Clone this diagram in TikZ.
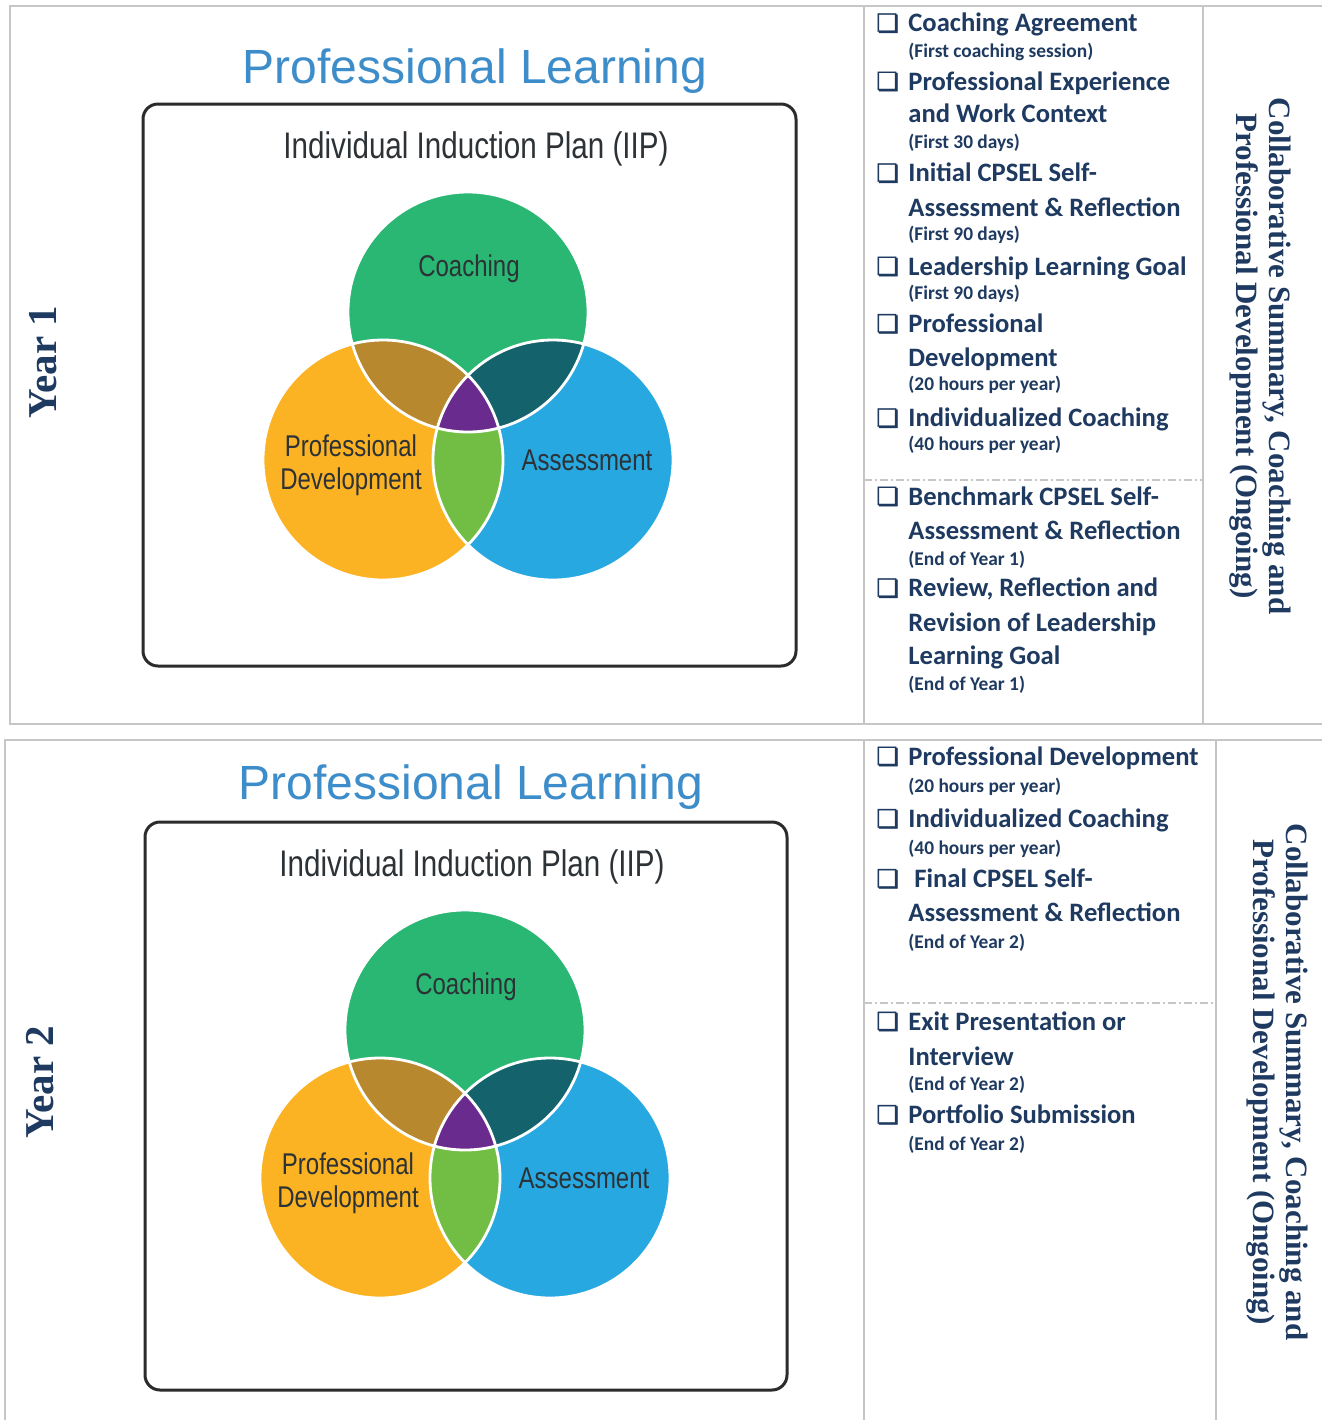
\documentclass[tikz,border=0pt]{standalone}
\usepackage{fontspec}
\setmainfont{Liberation Sans}
\newfontfamily\condfont[FakeStretch=0.8]{Liberation Sans}
\newfontfamily\calfont{Carlito}
\newfontfamily\serfont{Liberation Serif}
\newfontfamily\symfont[FakeBold=1.5]{DejaVu Sans}
\definecolor{navy}{HTML}{1F3A60}
\definecolor{ttlblue}{HTML}{3C8DC9}
\definecolor{panelgray}{HTML}{C6C6C6}
\definecolor{boxgray}{HTML}{2B2B2B}
\definecolor{lblgray}{HTML}{2C3236}
\definecolor{cCO}{HTML}{2AB673}
\definecolor{cPD}{HTML}{FBB324}
\definecolor{cAS}{HTML}{28A8E0}
\definecolor{cPDCO}{HTML}{B8882F}
\definecolor{cCOAS}{HTML}{14626B}
\definecolor{cPDAS}{HTML}{72BE44}
\definecolor{cALL}{HTML}{6A2B8E}
\tikzset{
  panel/.style={draw=panelgray, line width=1pt},
  paneldash/.style={draw=panelgray, line width=0.8pt, dash pattern=on 4pt off 1.5pt on 1pt off 1.5pt},
  iipbox/.style={draw=boxgray, line width=1.5pt, rounded corners=7.5pt},
  ptitle/.style={font=\fontsize{24}{28}\selectfont, text=ttlblue, inner sep=0pt, anchor=base},
  iip/.style={font=\condfont\fontsize{18.5}{22}\selectfont, text=lblgray, inner sep=0pt, anchor=base},
  vlabel/.style={font=\condfont\fontsize{15}{16.5}\selectfont, text=lblgray, inner sep=0pt, align=center},
  item/.style={font=\calfont\bfseries\fontsize{13.3}{16}\selectfont, text=navy, inner sep=0pt, anchor=base west},
  sub/.style={font=\calfont\bfseries\fontsize{9.7}{11}\selectfont, text=navy, inner sep=0pt, anchor=base west},
  chk/.style={font=\symfont\fontsize{12.5}{14}\selectfont, text=navy, inner sep=0pt, anchor=base west},
  yearlbl/.style={font=\serfont\bfseries\fontsize{20.5}{24}\selectfont, text=navy, inner sep=0pt, rotate=90},
  side/.style={font=\serfont\bfseries\fontsize{15.5}{16.5}\selectfont, text=navy, inner sep=0pt, align=center, rotate=-90},
  venn/.pic={
    \fill[cPD] (-85,0) circle[radius=120];
    \fill[cAS] (85,0) circle[radius=120];
    \fill[cCO] (0,-148) circle[radius=120];
    \begin{scope}
      \clip (-85,0) circle[radius=120];
      \fill[cPDCO] (0,-148) circle[radius=120];
    \end{scope}
    \begin{scope}
      \clip (85,0) circle[radius=120];
      \fill[cCOAS] (0,-148) circle[radius=120];
    \end{scope}
    \begin{scope}
      \clip (-85,0) circle[radius=120];
      \fill[cPDAS] (85,0) circle[radius=120];
    \end{scope}
    \begin{scope}
      \clip (-85,0) circle[radius=120];
      \clip (85,0) circle[radius=120];
      \fill[cALL] (0,-148) circle[radius=120];
    \end{scope}
    \draw[white, line width=1.4pt] (-85,0) circle[radius=120];
    \draw[white, line width=1.4pt] (85,0) circle[radius=120];
    \draw[white, line width=1.4pt] (0,-148) circle[radius=120];
    \node[vlabel] (-co) at (1,-191) {Coaching};
    \node[vlabel] (-pd) at (-117,5) {Professional\\Development};
    \node[vlabel] (-as) at (119,0) {Assessment};
  }
}
\begin{document}
\begin{tikzpicture}[x=0.5pt,y=-0.5pt]
\useasboundingbox (0,0) rectangle (1322,1420);
\fill[white] (0,0) rectangle (1322,1420);

% ---------- panels ----------
\draw[panel] (1322,6) -- (10,6) -- (10,724) -- (1322,724);
\draw[panel] (864,6) -- (864,724);
\draw[panel] (1203,6) -- (1203,724);
\draw[paneldash] (864,480) -- (1203,480);

\draw[panel] (1322,740) -- (5,740) -- (5,1420);
\draw[panel] (864,740) -- (864,1420);
\draw[panel] (1216,740) -- (1216,1420);
\draw[paneldash] (864,1003) -- (1216,1003);

% ---------- Year 1 diagram ----------
\node[yearlbl] (yr1) at (43,362) {Year 1};
\node[ptitle] (pl1) at (475,83) {Professional Learning};
\draw[iipbox] (143,104) rectangle (796,666);
\node[iip] (iip1) at (476,158) {Individual Induction Plan (IIP)};
\pic (v1) at (468,460) {venn};

% ---------- Year 2 diagram ----------
\node[yearlbl] (yr2) at (40,1082) {Year 2};
\node[ptitle] (pl2) at (471,799) {Professional Learning};
\draw[iipbox] (145,822) rectangle (787,1390);
\node[iip] (iip2) at (472,876) {Individual Induction Plan (IIP)};
\pic (v2) at (465,1178) {venn};

% ---------- Year 1 checklist ----------
\node[chk] (c11) at (876,31.7) {❏};
\node[item] (a11) at (908,31.7) {Coaching Agreement};
\node[sub]  (b11) at (908,57) {(First coaching session)};
\node[chk] (c12) at (876,90) {❏};
\node[item] (a12) at (908,90) {Professional Experience};
\node[item] (a12b) at (908,122.7) {and Work Context};
\node[sub]  (b12) at (908,148.7) {(First 30 days)};
\node[chk] (c13) at (876,181.7) {❏};
\node[item] (a13) at (908,181.7) {Initial CPSEL Self-};
\node[item] (a13b) at (908,216) {Assessment \& Reflection};
\node[sub]  (b13) at (908,240.7) {(First 90 days)};
\node[chk] (c14) at (876,275) {❏};
\node[item] (a14) at (908,275) {Leadership Learning Goal};
\node[sub]  (b14) at (908,299.3) {(First 90 days)};
\node[chk] (c15) at (876,332.3) {❏};
\node[item] (a15) at (908,332.3) {Professional};
\node[item] (a15b) at (908,366.7) {Development};
\node[sub]  (b15) at (908,390.7) {(20 hours per year)};
\node[chk] (c16) at (876,426.7) {❏};
\node[item] (a16) at (908,426.7) {Individualized Coaching};
\node[sub]  (b16) at (908,450) {(40 hours per year)};
\node[chk] (c17) at (876,505) {❏};
\node[item] (a17) at (908,505) {Benchmark CPSEL Self-};
\node[item] (a17b) at (908,539.3) {Assessment \& Reflection};
\node[sub]  (b17) at (908,565) {(End of Year 1)};
\node[chk] (c18) at (876,596.7) {❏};
\node[item] (a18) at (908,596.7) {Review, Reflection and};
\node[item] (a18b) at (908,631) {Revision of Leadership};
\node[item] (a18c) at (908,664) {Learning Goal};
\node[sub]  (b18) at (908,690) {(End of Year 1)};

\node[side] (s1) at (1260,356) {Collaborative Summary, Coaching and\\Professional Development (Ongoing)};

% ---------- Year 2 checklist ----------
\node[chk] (c21) at (876,765) {❏};
\node[item] (a21) at (908,765) {Professional Development};
\node[sub]  (b21) at (908,792.7) {(20 hours per year)};
\node[chk] (c22) at (876,827.3) {❏};
\node[item] (a22) at (908,827.3) {Individualized Coaching};
\node[sub]  (b22) at (908,854) {(40 hours per year)};
\node[chk] (c23) at (876,887.3) {❏};
\node[item] (a23) at (914,887.3) {Final CPSEL Self-};
\node[item] (a23b) at (908,921.7) {Assessment \& Reflection};
\node[sub]  (b23) at (908,948.3) {(End of Year 2)};
\node[chk] (c24) at (876,1030) {❏};
\node[item] (a24) at (908,1030) {Exit Presentation or};
\node[item] (a24b) at (908,1065) {Interview};
\node[sub]  (b24) at (908,1090) {(End of Year 2)};
\node[chk] (c25) at (876,1123.3) {❏};
\node[item] (a25) at (908,1123.3) {Portfolio Submission};
\node[sub]  (b25) at (908,1150.7) {(End of Year 2)};

\node[side] (s2) at (1277,1082) {Collaborative Summary, Coaching and\\Professional Development (Ongoing)};
\end{tikzpicture}
\end{document}
